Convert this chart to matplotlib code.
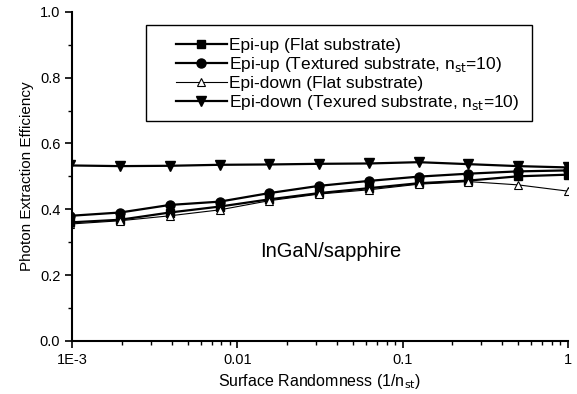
import matplotlib.pyplot as plt
from matplotlib.patches import Rectangle
from matplotlib.ticker import FixedLocator, FixedFormatter, NullFormatter

plt.rcParams['font.family'] = ['Liberation Sans', 'DejaVu Sans']

# surface randomness 1/n_st
x = [1/1024, 1/512, 1/256, 1/128, 1/64, 1/32, 1/16, 1/8, 1/4, 1/2, 1]

up_flat = [0.360, 0.368, 0.390, 0.408, 0.430, 0.449, 0.464, 0.479, 0.487, 0.500, 0.505]
up_tex = [0.380, 0.390, 0.413, 0.423, 0.449, 0.471, 0.486, 0.499, 0.508, 0.515, 0.518]
down_flat = [0.355, 0.365, 0.380, 0.398, 0.426, 0.446, 0.459, 0.476, 0.484, 0.474, 0.455]
down_tex = [0.533, 0.531, 0.532, 0.535, 0.536, 0.538, 0.539, 0.543, 0.537, 0.531, 0.527]

xticks = [1e-3, 1e-2, 1e-1, 1]
xtick_labels = ['1E-3', '0.01', '0.1', '1']

fig = plt.figure(figsize=(5.77, 3.94), dpi=100)
ax = fig.add_axes([0.125, 0.135, 0.859, 0.835])

ax.plot(x, up_flat, '-s', color='black', lw=1.6, ms=6, label='Epi-up (Flat substrate)')
ax.plot(x, up_tex, '-o', color='black', lw=1.6, ms=6.5, label='Epi-up (Textured substrate, n$_{\\rm st}$=10)')
ax.plot(x, down_flat, '-^', color='black', lw=0.8, ms=6, mfc='white', mew=0.8,
        label='Epi-down (Flat substrate)')
ax.plot(x, down_tex, '-v', color='black', lw=1.6, ms=6.5, label='Epi-down (Texured substrate, n$_{\\rm st}$=10)')

ax.set_xscale('log')
ax.set_xlim(1e-3, 1)
ax.set_ylim(0, 1.0)
ax.xaxis.set_major_locator(FixedLocator(xticks))
ax.xaxis.set_major_formatter(FixedFormatter(xtick_labels))
ax.xaxis.set_minor_formatter(NullFormatter())
ax.set_yticks([0, 0.2, 0.4, 0.6, 0.8, 1.0])
ax.set_yticks([0.1, 0.3, 0.5, 0.7, 0.9], minor=True)
ax.yaxis.set_major_formatter(plt.FormatStrFormatter('%.1f'))

ax.spines['top'].set_visible(False)
ax.spines['right'].set_visible(False)
ax.spines['left'].set_linewidth(1.5)
ax.spines['bottom'].set_linewidth(1.5)
ax.tick_params(which='major', length=5, width=1.2, labelsize=10.5)
ax.tick_params(which='minor', length=3, width=1)

ax.set_xlabel('Surface Randomness (1/n$_{\\rm st}$)', fontsize=11.5)
ax.set_ylabel('Photon Extraction Efficiency', fontsize=11)

ax.text(0.0366, 0.272, 'InGaN/sapphire', fontsize=14.5, ha='center', va='center')

# legend frame drawn separately so the inner left indent matches
ax.add_patch(Rectangle((0.149, 0.667), 0.778, 0.293, transform=ax.transAxes,
                       fill=False, edgecolor='black', lw=1.0, zorder=5))
leg = ax.legend(loc='upper left', bbox_to_anchor=(0.21, 0.922), fontsize=12.5,
                frameon=False, handlelength=2.9, borderpad=0, borderaxespad=0,
                labelspacing=0.12, handletextpad=0.15)

fig.savefig('out.png', dpi=100)
